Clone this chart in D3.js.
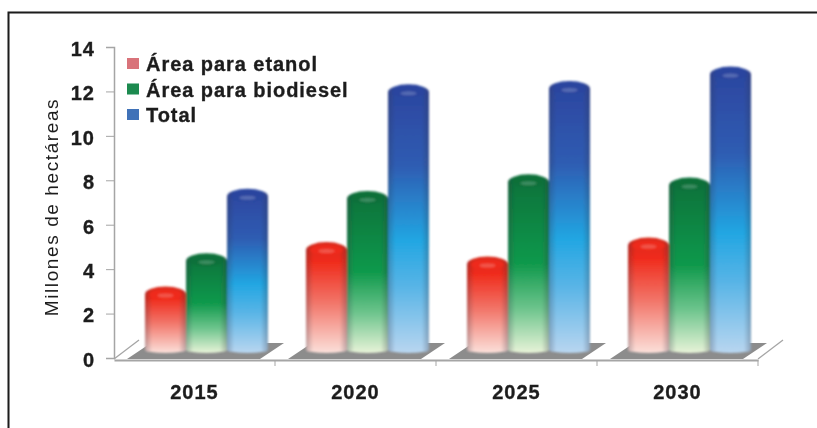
<!DOCTYPE html>
<html><head><meta charset="utf-8">
<script src="https://cdnjs.cloudflare.com/ajax/libs/d3/7.8.5/d3.min.js"></script>
<style>html,body{margin:0;background:#fff}svg{display:block}text{font-family:"Liberation Sans",Arial,sans-serif}</style>
</head><body><svg id="c" width="817" height="428"></svg>
<script>
const years = ["2015","2020","2025","2030"];
const seriesNames = ["Área para etanol","Área para biodiesel","Total"];
const etanol = [2.5,4.5,3.85,4.7];
const biodiesel = [4.0,6.8,7.55,7.4];
const total = [6.9,11.6,11.75,12.4];
const yTicks = [0,2,4,6,8,10,12,14];
const ramps = [
  [[0,"#d8291a"],[0.18,"#f02c1c"],[0.55,"#f2766a"],[1,"#fbe0da"]],
  [[0,"#0c703a"],[0.5,"#10994c"],[0.75,"#6cc48c"],[1,"#e8f3d8"]],
  [[0,"#2c459f"],[0.3,"#2f5cb2"],[0.58,"#22a6e2"],[0.75,"#57b4e6"],[1,"#b9d6f0"]]
];
const swatches = ["#d9737a","#1a8a50","#3f72b8"];
const values = [etanol,biodiesel,total];

const svg = d3.select("#c");
const defs = svg.append("defs");
defs.append("filter").attr("id","soft").append("feGaussianBlur").attr("stdDeviation",1);
defs.append("filter").attr("id","softText").append("feGaussianBlur").attr("stdDeviation",0.6);

// Vertical colour ramp for each series plus a side shade that rounds the cylinder.
ramps.forEach((st,i)=>{
  const g = defs.append("linearGradient").attr("id","ramp"+i).attr("x1",0).attr("x2",0).attr("y1",0).attr("y2",1);
  st.forEach(s=>g.append("stop").attr("offset",s[0]).attr("stop-color",s[1]));
});
const side = defs.append("linearGradient").attr("id","side");
[[0,"#334",0.28],[0.18,"#334",0],[0.82,"#334",0],[1,"#334",0.3]].forEach(s=>
  side.append("stop").attr("offset",s[0]).attr("stop-color",s[1]).attr("stop-opacity",s[2]));

const plot = {left:114, right:758, top:47, bottom:358};
const depth = {dx:25, dy:19};
const textColor = "#1f1f1f";
const axisColor = "#a5a5a5";

const x = d3.scaleBand().domain(years).range([plot.left,plot.right]);
const y = d3.scaleLinear().domain([0,14]).range([plot.bottom,plot.top]);
const inner = d3.scaleBand().domain(d3.range(3)).range([31,154]);
const lift = 8;   // bars stand in the middle of the floor
const capRy = 8;
const floorY = y(0)+2;

const heavy = sel => sel.attr("font-size",20).attr("font-weight","bold").attr("fill",textColor)
  .attr("stroke",textColor).attr("stroke-width",0.35);

// Frame along the top and left edges
svg.append("path").attr("d","M817,12.5H8.5V428").attr("fill","none").attr("stroke","#1a1a1a").attr("stroke-width",2)
  .attr("filter","url(#softText)");

// Axes
const axesLayer = svg.append("g").attr("filter","url(#softText)");
const yAxis = axesLayer.append("g").attr("transform",`translate(${plot.left},0)`)
  .call(d3.axisLeft(y).tickValues(yTicks).tickSize(8).tickPadding(11));
yAxis.select(".domain").attr("stroke",axisColor).attr("stroke-width",1.5);
yAxis.selectAll(".tick line").attr("stroke",axisColor);
yAxis.selectAll(".tick text").call(heavy).attr("letter-spacing",1).attr("dy","0.42em");

const xAxis = axesLayer.append("g").attr("transform",`translate(0,${floorY})`)
  .call(d3.axisBottom(x).tickSize(0).tickPadding(23));
xAxis.select(".domain").attr("stroke",axisColor).attr("stroke-width",2);
xAxis.selectAll(".tick text").call(heavy).attr("letter-spacing",1).attr("dy","0.8em");
axesLayer.append("g").selectAll("line").data(d3.range(1,5)).join("line")
  .attr("x1",i=>plot.left+i*x.bandwidth()).attr("x2",i=>plot.left+i*x.bandwidth())
  .attr("y1",floorY).attr("y2",floorY+6).attr("stroke",axisColor);
[plot.left,plot.right].forEach(px=>
  axesLayer.append("line").attr("x1",px).attr("y1",floorY-1).attr("x2",px+depth.dx).attr("y2",floorY-1-depth.dy)
    .attr("stroke",axisColor).attr("stroke-width",1.3));

// Grey floor under each group of bars
svg.append("g").attr("filter","url(#softText)").selectAll("path").data(years).join("path")
  .attr("fill","#8c8c8c")
  .attr("d",d=>{
    const l=x(d)+13, r=x(d)+146, b=floorY-1, t=floorY-17;
    return `M${l},${b}L${r},${b}L${r+24},${t}L${l+24},${t}Z`;
  });

// Cylinders, drawn left to right so each one overlaps the previous
const bars = svg.append("g").attr("filter","url(#soft)");
values.forEach((vals,s)=>{
  const g = bars.append("g");
  vals.forEach((v,k)=>{
    const bx = x(years[k])+inner(s), w = inner.bandwidth();
    const top = y(v)-lift, base = y(0)-lift;
    const body = `M${bx},${top}A${w/2},${capRy} 0 0 1 ${bx+w},${top}L${bx+w},${base}A${w/2},3 0 0 1 ${bx},${base}Z`;
    g.append("path").attr("d",body).attr("fill",`url(#ramp${s})`);
    g.append("path").attr("d",body).attr("fill","url(#side)");
    g.append("ellipse").attr("cx",bx+w/2).attr("cy",top).attr("rx",w/2-4).attr("ry",capRy-3)
      .attr("fill",ramps[s][s===0?1:0][1]).attr("opacity",0.85);
    g.append("ellipse").attr("cx",bx+w/2).attr("cy",top+1).attr("rx",w/5).attr("ry",2)
      .attr("fill","#fff").attr("opacity",0.2);
  });
});

// Legend
const legend = svg.append("g").attr("filter","url(#softText)");
seriesNames.forEach((n,i)=>{
  const ly = 65+i*25.5;
  legend.append("rect").attr("x",127).attr("y",ly-7).attr("width",12).attr("height",11)
    .attr("fill",swatches[i]);
  legend.append("text").attr("x",146).attr("y",ly+6).text(n).call(heavy).attr("letter-spacing",0.95);
});

// Y axis title
svg.append("text").attr("transform","translate(58,207) rotate(-90)").attr("text-anchor","middle")
  .attr("font-size",19).attr("letter-spacing",1.6).attr("fill",textColor).attr("filter","url(#softText)")
  .text("Millones de hectáreas");
</script></body></html>
